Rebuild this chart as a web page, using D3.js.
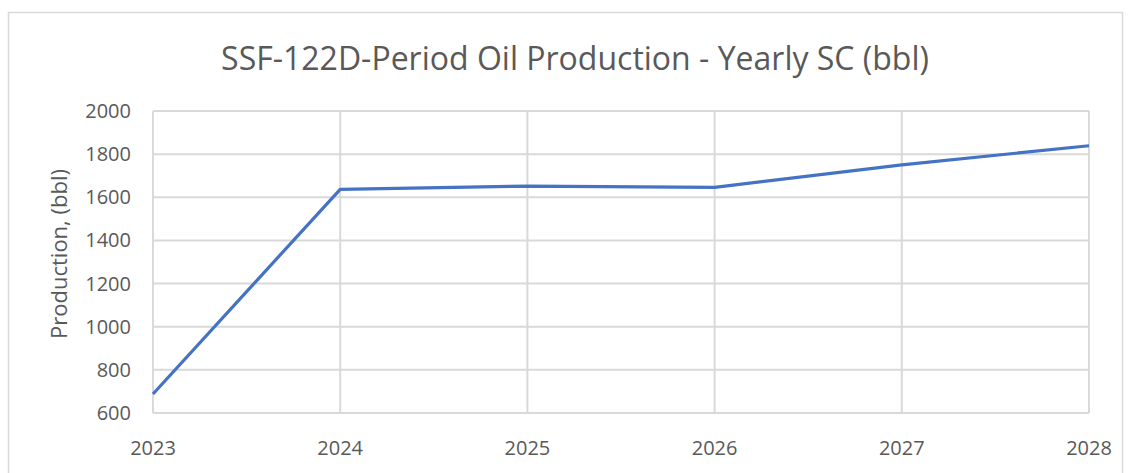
<!DOCTYPE html>
<html>
<head>
<meta charset="utf-8">
<script src="https://cdn.jsdelivr.net/npm/d3@7"></script>
<style>
  body { margin: 0; background: #fff; }
  text { font-family: "Open Sans", "Liberation Sans", sans-serif; fill: #595959; }
</style>
</head>
<body>
<div id="chart"></div>
<script>
const width = 1133;
const height = 473;

const years = [2023, 2024, 2025, 2026, 2027, 2028];
const production = [688, 1637, 1652, 1646, 1750, 1839];
const yTicks = [600, 800, 1000, 1200, 1400, 1600, 1800, 2000];
const title = "SSF-122D-Period Oil Production - Yearly SC (bbl)";
const yLabel = "Production, (bbl)";

const plot = { left: 153, right: 1089, top: 111, bottom: 413 };

const svg = d3.select("#chart")
  .append("svg")
  .attr("width", width)
  .attr("height", height);

// outer chart frame
svg.append("rect")
  .attr("x", 8.5)
  .attr("y", 12.5)
  .attr("width", 1114)
  .attr("height", 480)
  .attr("fill", "none")
  .attr("stroke", "#d9d9d9")
  .attr("stroke-width", 1.5);

const x = d3.scaleLinear().domain([2023, 2028]).range([plot.left, plot.right]);
const y = d3.scaleLinear().domain([600, 2000]).range([plot.bottom, plot.top]);

// gridlines
svg.append("g")
  .selectAll("line")
  .data(yTicks)
  .enter()
  .append("line")
  .attr("x1", plot.left)
  .attr("x2", plot.right)
  .attr("y1", d => y(d))
  .attr("y2", d => y(d))
  .attr("stroke", "#d9d9d9")
  .attr("stroke-width", 2);

svg.append("g")
  .selectAll("line")
  .data(years)
  .enter()
  .append("line")
  .attr("x1", d => x(d))
  .attr("x2", d => x(d))
  .attr("y1", plot.top)
  .attr("y2", plot.bottom)
  .attr("stroke", "#d9d9d9")
  .attr("stroke-width", 2);

// tick labels
svg.append("g")
  .selectAll("text")
  .data(yTicks)
  .enter()
  .append("text")
  .attr("x", plot.left - 22)
  .attr("y", d => y(d))
  .attr("dy", "0.35em")
  .attr("text-anchor", "end")
  .attr("font-size", 20)
  .text(d => d);

svg.append("g")
  .selectAll("text")
  .data(years)
  .enter()
  .append("text")
  .attr("x", d => x(d))
  .attr("y", 455)
  .attr("text-anchor", "middle")
  .attr("font-size", 20)
  .text(d => d);

// title + axis label
svg.append("text")
  .attr("x", 575)
  .attr("y", 70)
  .attr("text-anchor", "middle")
  .attr("font-size", 32)
  .text(title);

svg.append("text")
  .attr("transform", `translate(67, 254) rotate(-90)`)
  .attr("text-anchor", "middle")
  .attr("font-size", 22)
  .text(yLabel);

// the line
const line = d3.line()
  .x((d, i) => x(years[i]))
  .y(d => y(d));

svg.append("path")
  .datum(production)
  .attr("d", line)
  .attr("fill", "none")
  .attr("stroke", "#4472c4")
  .attr("stroke-width", 3.2)
  .attr("stroke-linejoin", "round");
</script>
</body>
</html>
